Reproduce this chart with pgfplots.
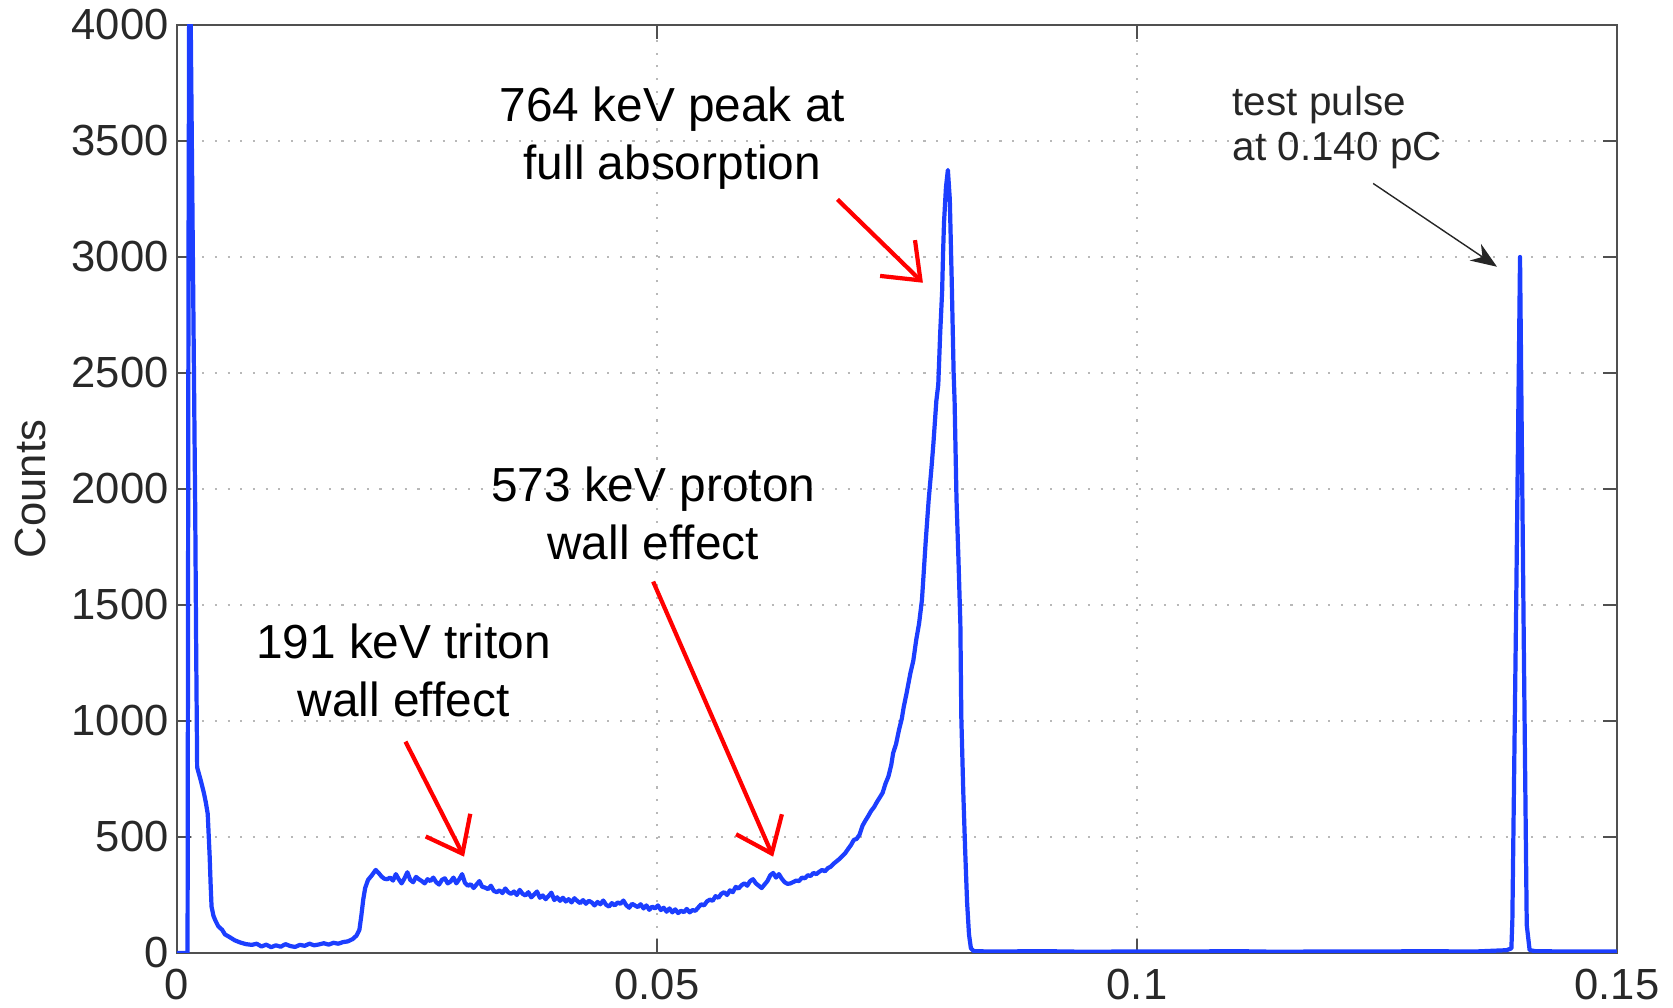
\documentclass[border=0pt]{standalone}
\usepackage{fontspec}
\setmainfont{Liberation Sans}
\usepackage{pgfplots}
\pgfplotsset{compat=1.18}
\usetikzlibrary{arrows.meta}
\definecolor{lineblue}{RGB}{28,62,255}
\definecolor{axgray}{RGB}{80,80,80}
\definecolor{tickgray}{RGB}{40,40,40}
\begin{document}
\begin{tikzpicture}
\path[use as bounding box] (-17.7mm,-5.5mm) rectangle (149.6mm,95.3mm);
\begin{axis}[
  scale only axis,
  width=144mm, height=92.8mm,
  xmin=0, xmax=0.15, ymin=0, ymax=4000,
  xtick={0,0.05,0.1,0.15},
  xticklabels={0,0.05,0.1,0.15},
  ytick={0,500,1000,1500,2000,2500,3000,3500,4000},
  yticklabels={0,500,1000,1500,2000,2500,3000,3500,4000},
  tick align=inside,
  major tick length=1.4mm,
  tick style={axgray, line width=0.5pt},
  axis line style={axgray, line width=0.7pt},
  grid=major,
  major grid style={black!28, line width=0.5pt, dash pattern=on 0.6pt off 3pt},
  ticklabel style={font=\fontsize{12.4}{14}\selectfont, text=tickgray},
  xticklabel style={yshift=-0.4mm},
  yticklabel style={xshift=0.4mm},
  ylabel={Counts},
  ylabel style={font=\fontsize{12.4}{14}\selectfont, text=tickgray, at={(axis description cs:-0.102,0.5)}, anchor=center},
]
\addplot[lineblue, line width=1.2pt, line join=round] coordinates {
(0,0) (0.0011,0) (0.0012,3000) (0.0013,4600) (0.0015,3700) (0.0017,2800)
(0.0019,1900) (0.0020,1300) (0.0021,800) (0.0023,770) (0.0025,740) (0.0028,690)
(0.0030,650) (0.0032,600) (0.0034,420) (0.0035,300) (0.0036,200) (0.0038,160)
(0.0040,140) (0.0043,115) (0.0047,100) (0.0050,80) (0.0055,68) (0.0060,55)
(0.0066,45) (0.0072,38) (0.0078,35) (0.0083,40) (0.0088,28) (0.0093,36)
(0.0098,25) (0.0103,33) (0.0108,27) (0.0113,38) (0.0118,30) (0.0123,26)
(0.0128,35) (0.0133,31) (0.0138,40) (0.0143,33) (0.0148,37) (0.0153,42)
(0.0158,36) (0.0163,44) (0.0168,40) (0.0173,47) (0.0178,50) (0.0183,60)
(0.0187,75) (0.0190,100) (0.0192,160) (0.0194,230) (0.0196,280) (0.0199,315)
(0.0203,335) (0.0207,358) (0.0210,345) (0.0213,330) (0.0216,320) (0.0219,318)
(0.0222,325) (0.0225,312) (0.0228,340) (0.0231,318) (0.0234,300) (0.0237,322)
(0.0240,348) (0.0243,315) (0.0246,305) (0.0249,328) (0.0252,318) (0.0255,310)
(0.0258,300) (0.0261,318) (0.0264,310) (0.0267,325) (0.0270,305) (0.0273,295)
(0.0276,315) (0.0279,322) (0.0282,300) (0.0285,308) (0.0288,325) (0.0291,300)
(0.0294,318) (0.0297,340) (0.0300,302) (0.0303,290) (0.0306,296) (0.0309,280)
(0.0312,295) (0.0315,310) (0.0318,285) (0.0321,282) (0.0324,275) (0.0327,290)
(0.0330,268) (0.0333,262) (0.0336,270) (0.0339,258) (0.0342,278) (0.0345,262)
(0.0348,255) (0.0351,265) (0.0354,250) (0.0357,272) (0.0360,255) (0.0363,248)
(0.0366,262) (0.0369,240) (0.0372,252) (0.0375,265) (0.0378,238) (0.0381,248)
(0.0384,232) (0.0387,245) (0.0390,260) (0.0393,228) (0.0396,240) (0.0399,225)
(0.0402,238) (0.0405,222) (0.0408,232) (0.0411,218) (0.0414,236) (0.0417,224)
(0.0420,215) (0.0423,228) (0.0426,212) (0.0429,225) (0.0432,218) (0.0435,205)
(0.0438,220) (0.0441,210) (0.0444,226) (0.0447,208) (0.0450,200) (0.0453,215)
(0.0456,205) (0.0459,218) (0.0462,212) (0.0465,226) (0.0468,206) (0.0471,195)
(0.0474,212) (0.0477,205) (0.0480,198) (0.0483,210) (0.0486,192) (0.0489,205)
(0.0492,186) (0.0495,200) (0.0498,192) (0.0501,205) (0.0504,185) (0.0507,195)
(0.0510,178) (0.0513,192) (0.0516,175) (0.0519,188) (0.0522,172) (0.0525,182)
(0.0528,176) (0.0531,190) (0.0534,175) (0.0537,185) (0.0540,182) (0.0543,196)
(0.0546,210) (0.0549,205) (0.0552,222) (0.0555,230) (0.0558,225) (0.0561,245)
(0.0564,238) (0.0567,255) (0.0570,262) (0.0573,250) (0.0576,270) (0.0579,262)
(0.0582,285) (0.0585,278) (0.0588,292) (0.0591,300) (0.0594,290) (0.0597,310)
(0.0600,318) (0.0603,300) (0.0606,290) (0.0609,280) (0.0612,295) (0.0615,310)
(0.0618,335) (0.0621,345) (0.0624,325) (0.0627,340) (0.0630,320) (0.0633,305)
(0.0636,298) (0.0639,300) (0.0642,306) (0.0645,312) (0.0648,310) (0.0651,325)
(0.0654,322) (0.0657,335) (0.0660,332) (0.0663,345) (0.0666,340) (0.0669,350)
(0.0672,358) (0.0675,352) (0.0678,366) (0.0681,372) (0.0684,385) (0.0687,395)
(0.0690,405) (0.0693,418) (0.0696,430) (0.0699,448) (0.0702,465) (0.0705,487)
(0.0708,492) (0.0711,510) (0.0714,548) (0.0717,570) (0.0720,590) (0.0723,612)
(0.0726,628) (0.0729,650) (0.0732,670) (0.0735,690) (0.0738,730) (0.0741,760)
(0.0744,810) (0.0746,862) (0.0749,900) (0.0752,960) (0.0755,1010) (0.0757,1060)
(0.0760,1120) (0.0764,1207) (0.0767,1260) (0.0770,1349) (0.0773,1420) (0.0776,1522)
(0.0778,1650) (0.0780,1780) (0.0783,1953) (0.0786,2095) (0.0788,2200) (0.0791,2380)
(0.0793,2450) (0.0795,2672) (0.0797,2850) (0.0798,3017) (0.0799,3150) (0.0801,3300)
(0.0803,3375) (0.0805,3250) (0.0807,2900) (0.0809,2500) (0.0810,2380) (0.0812,1953)
(0.0814,1700) (0.0816,1422) (0.0817,1017) (0.0819,700) (0.0821,444) (0.0823,220)
(0.0825,80) (0.0827,20) (0.0830,8) (0.0850,6) (0.0900,8) (0.0950,5)
(0.1000,7) (0.1050,6) (0.1100,8) (0.1150,5) (0.1200,7) (0.1250,6)
(0.1300,8) (0.1350,6) (0.1385,12) (0.1390,20) (0.1391,140) (0.1395,1500)
(0.1399,3000) (0.1403,1300) (0.1406,120) (0.1409,12) (0.1415,8) (0.1450,6)
(0.1500,7)
};
% annotations
\node[align=center, font=\fontsize{13.6}{16.5}\selectfont] at (axis cs:0.0516,3513) {764 keV peak at\\full absorption};
\draw[red, line width=1.2pt, -{Straight Barb[length=3.2mm,width=5mm]}] (axis cs:0.0688,3248) -- (axis cs:0.0777,2889);
\node[align=center, font=\fontsize{13.6}{16.5}\selectfont] at (axis cs:0.0496,1894) {573 keV proton\\wall effect};
\draw[red, line width=1.2pt, -{Straight Barb[length=3.2mm,width=5mm]}] (axis cs:0.0496,1601) -- (axis cs:0.0621,415);
\node[align=center, font=\fontsize{13.6}{16.5}\selectfont] at (axis cs:0.0236,1216) {191 keV triton\\wall effect};
\draw[red, line width=1.2pt, -{Straight Barb[length=3.2mm,width=5mm]}] (axis cs:0.0238,911) -- (axis cs:0.0299,415);
\node[align=left, anchor=west, inner sep=0pt, text=black!85, font=\fontsize{11.5}{12.8}\selectfont] at (axis cs:0.1099,3560) {test pulse\\at 0.140 pC};
\draw[black!85, line width=0.4pt, -{Stealth[length=2.6mm,width=2mm]}] (axis cs:0.1246,3317) -- (axis cs:0.1375,2958);
\end{axis}
\end{tikzpicture}
\end{document}
